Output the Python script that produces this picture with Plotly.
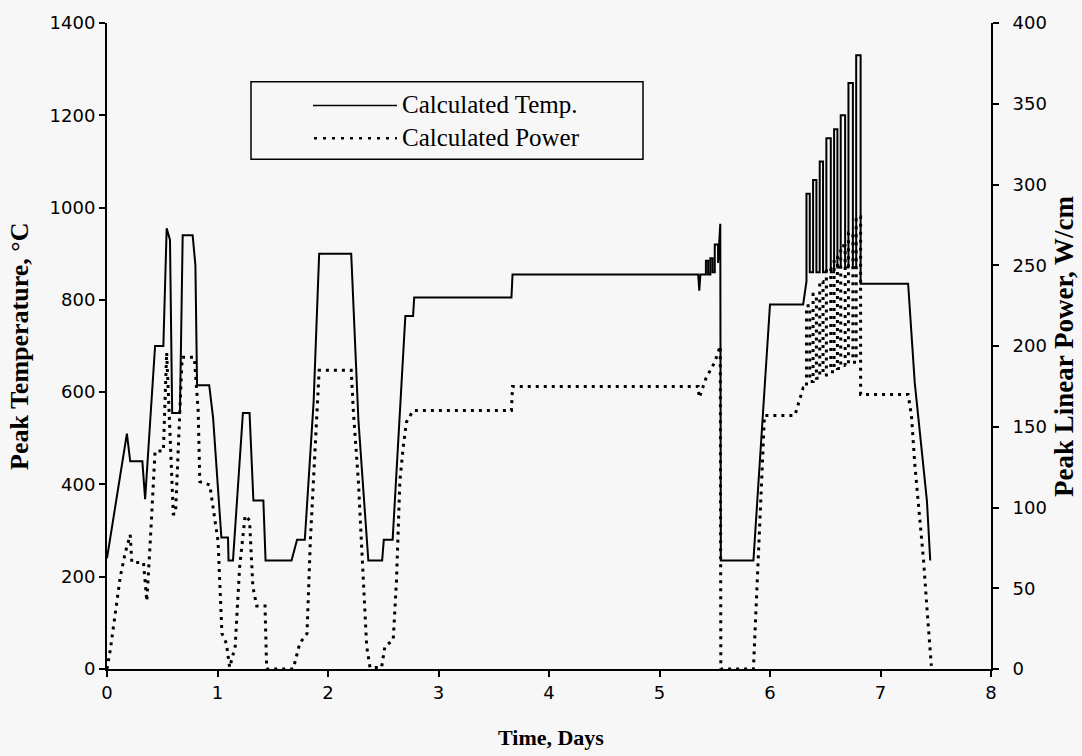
import plotly.graph_objects as go

# ---- Data ----
temp_t = [0.00, 0.18, 0.21, 0.32, 0.345, 0.40, 0.435, 0.51, 0.54, 0.57, 0.59, 0.66, 0.685, 0.775,
          0.80, 0.815, 0.925, 0.96, 1.035, 1.095, 1.10, 1.14, 1.23, 1.29, 1.325, 1.415, 1.435,
          1.67, 1.72, 1.79, 1.87, 1.92, 2.21, 2.275, 2.365, 2.49, 2.505, 2.585, 2.70, 2.77, 2.78,
          3.66, 3.67, 5.35, 5.36, 5.37, 5.42, 5.42, 5.44, 5.44, 5.46, 5.46, 5.48, 5.48, 5.50,
          5.50, 5.53, 5.53, 5.55, 5.555, 5.85, 6.00, 6.30, 6.33,
          6.33, 6.36, 6.36, 6.39, 6.39, 6.42, 6.42, 6.45, 6.45, 6.48, 6.48, 6.51, 6.51, 6.55,
          6.55, 6.58, 6.58, 6.61, 6.61, 6.64, 6.64, 6.68, 6.68, 6.71, 6.71, 6.75, 6.75, 6.78,
          6.78, 6.82, 6.82, 7.25, 7.31, 7.42, 7.45]
temp_v = [240, 510, 450, 450, 368, 580, 700, 700, 955, 930, 555, 555, 940, 940,
          875, 615, 615, 545, 285, 285, 235, 235, 555, 555, 365, 365, 235,
          235, 280, 280, 580, 900, 900, 540, 235, 235, 280, 280, 765, 765, 805,
          805, 855, 855, 820, 855, 855, 885, 885, 855, 855, 890, 890, 860, 860,
          920, 920, 880, 965, 235, 235, 790, 790, 840,
          1030, 1030, 860, 860, 1060, 1060, 860, 860, 1100, 1100, 860, 860, 1150, 1150,
          860, 860, 1170, 1170, 870, 870, 1200, 1200, 870, 870, 1270, 1270, 870, 870,
          1330, 1330, 835, 835, 620, 365, 235]

power_t = [0.00, 0.03, 0.12, 0.165, 0.21, 0.225, 0.33, 0.36, 0.39, 0.42, 0.435, 0.51, 0.54,
           0.60, 0.62, 0.68, 0.79, 0.825, 0.84, 0.93, 1.005, 1.04, 1.08, 1.11, 1.16, 1.20,
           1.25, 1.29, 1.32, 1.355, 1.43, 1.445, 1.685, 1.745, 1.81, 1.84, 1.88, 1.92, 2.21,
           2.23, 2.275, 2.32, 2.35, 2.38, 2.485, 2.515, 2.59, 2.62, 2.65, 2.68, 2.71, 2.77,
           3.66, 3.67, 5.35, 5.36, 5.42, 5.46, 5.50, 5.55, 5.555, 5.85, 5.95, 6.225, 6.30,
           6.33, 6.33, 6.36, 6.36, 6.39, 6.39, 6.42, 6.42, 6.45, 6.45, 6.48, 6.48, 6.51,
           6.51, 6.55, 6.55, 6.58, 6.58, 6.61, 6.61, 6.64, 6.64, 6.68, 6.68, 6.71, 6.71,
           6.75, 6.75, 6.78, 6.78, 6.82, 6.82,
           7.25, 7.28, 7.31, 7.36, 7.39, 7.42, 7.45, 7.46]
power_v = [0, 12, 57, 72, 83, 66, 66, 42, 77, 118, 135, 135, 196,
           96, 96, 193, 193, 160, 116, 114, 79, 22, 16, 1, 14, 63,
           95, 92, 51, 39, 39, 0, 0, 16, 22, 79, 129, 185, 185,
           159, 116, 55, 14, 1, 1, 14, 18, 55, 116, 137, 153, 160,
           160, 175, 175, 168, 180, 185, 190, 200, 0, 0, 157, 157, 174,
           174, 225, 225, 178, 178, 232, 232, 180, 180, 240, 240, 182, 182,
           248, 248, 184, 184, 255, 255, 186, 186, 262, 262, 188, 188, 270,
           270, 190, 190, 280, 280, 170,
           170, 157, 127, 90, 67, 38, 10, 2]

x_ticks = [0, 1, 2, 3, 4, 5, 6, 7, 8]
left_ticks = [0, 200, 400, 600, 800, 1000, 1200, 1400]
right_ticks = [0, 50, 100, 150, 200, 250, 300, 350, 400]

BG = "#f7f7f7"
SERIF = "Liberation Serif, Times New Roman, serif"
SANS = "DejaVu Sans, Verdana, sans-serif"

fig = go.Figure()
fig.add_trace(go.Scatter(x=temp_t, y=temp_v, mode="lines", name="Calculated Temp.",
                         line=dict(color="black", width=2), showlegend=False))
fig.add_trace(go.Scatter(x=power_t, y=power_v, mode="lines", name="Calculated Power",
                         line=dict(color="black", width=3, dash="3px,5px"),
                         yaxis="y2", showlegend=False))

axis_common = dict(showgrid=False, zeroline=False, showline=True, linecolor="black",
                   linewidth=2, ticks="outside", ticklen=6, tickcolor="black", tickwidth=1.5,
                   tickfont=dict(family=SANS, size=18, color="black"))

fig.update_layout(
    width=1082, height=756,
    paper_bgcolor=BG, plot_bgcolor=BG,
    margin=dict(l=107, r=91, t=19, b=87),
    xaxis=dict(range=[0, 8], tickvals=x_ticks, **axis_common),
    yaxis=dict(range=[0, 1400], tickvals=left_ticks, **axis_common),
    yaxis2=dict(range=[0, 400], tickvals=right_ticks, overlaying="y", side="right",
                ticklabelstandoff=10, **axis_common),
)

def px_to_paper_x(px):
    return (px - 107) / (991 - 107)

def px_to_paper_y(py):
    return (669 - py) / (669 - 19)

# Axis titles as annotations for precise placement
fig.add_annotation(xref="paper", yref="paper", x=px_to_paper_x(551), y=px_to_paper_y(738),
                   text="<b>Time, Days</b>", showarrow=False, xanchor="center", yanchor="middle",
                   font=dict(family=SERIF, size=22, color="black"))
fig.add_annotation(xref="paper", yref="paper", x=px_to_paper_x(19), y=px_to_paper_y(344),
                   text="<b>Peak Temperature, °C</b>", showarrow=False, textangle=-90,
                   xanchor="center", yanchor="middle",
                   font=dict(family=SERIF, size=26, color="black"))
fig.add_annotation(xref="paper", yref="paper", x=px_to_paper_x(1064), y=px_to_paper_y(345),
                   text="<b>Peak Linear Power, W/cm</b>", showarrow=False, textangle=-90,
                   xanchor="center", yanchor="middle",
                   font=dict(family=SERIF, size=27, color="black"))

# Manual legend box
fig.add_shape(type="rect", xref="paper", yref="paper",
              x0=px_to_paper_x(251), x1=px_to_paper_x(643),
              y0=px_to_paper_y(156), y1=px_to_paper_y(78),
              line=dict(color="black", width=1.5), fillcolor=BG, layer="above")
fig.add_shape(type="line", xref="paper", yref="paper",
              x0=px_to_paper_x(313), x1=px_to_paper_x(397),
              y0=px_to_paper_y(102), y1=px_to_paper_y(102),
              line=dict(color="black", width=1.5))
fig.add_shape(type="line", xref="paper", yref="paper",
              x0=px_to_paper_x(314), x1=px_to_paper_x(397),
              y0=px_to_paper_y(135), y1=px_to_paper_y(135),
              line=dict(color="black", width=2.5, dash="3px,6px"))
for label, py in [("Calculated Temp.", 101), ("Calculated Power", 134)]:
    fig.add_annotation(xref="paper", yref="paper", x=px_to_paper_x(400), y=px_to_paper_y(py),
                       text=label, showarrow=False, xanchor="left", yanchor="middle",
                       font=dict(family=SERIF, size=25, color="black"))

fig.write_html("out.html")
